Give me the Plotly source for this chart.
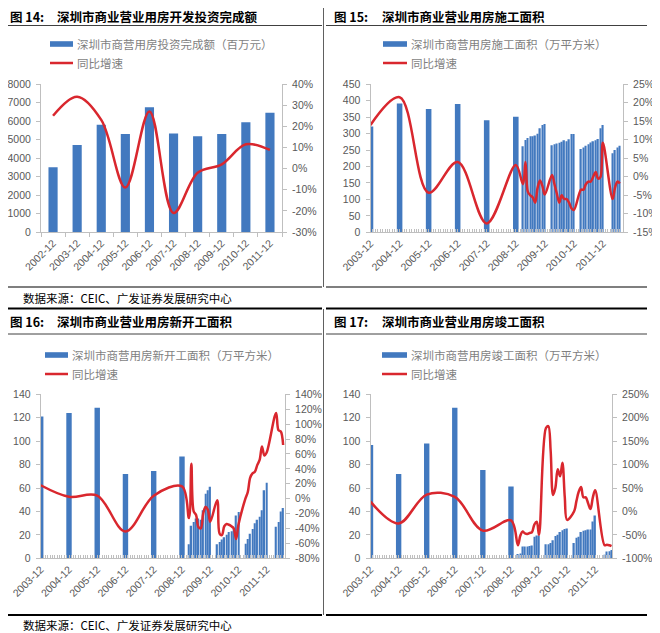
import plotly.graph_objects as go

# The page body adds an 8px offset; the figure is sized and shifted to compensate.
OFF = 8
W, H = 660 - OFF, 633 - OFF

def px(x):
    return (x - OFF) / W

def py(y):
    return 1 - (y - OFF) / H

# ---------------- Data ----------------
# Figure 14: annual investment (million yuan) and YoY growth
years_14 = ["2002-12", "2003-12", "2004-12", "2005-12", "2006-12",
            "2007-12", "2008-12", "2009-12", "2010-12", "2011-12"]
invest_14 = [3500, 4700, 5800, 5300, 6750, 5330, 5180, 5300, 5930, 6450]
growth_14 = [0.25, 0.34, 0.23, -0.09, 0.27, -0.21, -0.02, 0.02, 0.115, 0.088]

# Periods shared by figures 15-17 (annual to 2008, then monthly cumulative)
periods = ["2003-12", "2004-12", "2005-12", "2006-12", "2007-12", "2008-12",
           "2009-03", "2009-04", "2009-05", "2009-06", "2009-07", "2009-08",
           "2009-09", "2009-10", "2009-11", "2009-12",
           "2010-03", "2010-04", "2010-05", "2010-06", "2010-07", "2010-08",
           "2010-09", "2010-10", "2010-11", "2010-12",
           "2011-03", "2011-04", "2011-05", "2011-06", "2011-07", "2011-08",
           "2011-09", "2011-10", "2011-11", "2011-12",
           "2012-04", "2012-05", "2012-06", "2012-07"]
year_ticks = ["2003-12", "2004-12", "2005-12", "2006-12", "2007-12",
              "2008-12", "2009-12", "2010-12", "2011-12"]

# Figure 15: floor area under construction (10k sqm) and YoY growth
area_15 = [322, 392, 375, 390, 341, 351,
           262, 281, 287, 292, 292, 294, 300, 316, 326, 329,
           265, 268, 270, 272, 275, 280, 277, 283, 299, 299,
           253, 258, 263, 268, 273, 277, 280, 284, 316, 326,
           240, 250, 258, 263]
growth_15 = [0.14, 0.215, -0.043, 0.04, -0.126, 0.032,
             -0.02, 0.04, -0.04, -0.05, -0.055, -0.07, -0.03, -0.01, -0.025, -0.048,
             0.005, -0.02, -0.045, -0.07, -0.05, -0.06, -0.06, -0.07, -0.085, -0.09,
             -0.035, -0.035, -0.02, -0.013, -0.013, 0.0, 0.013, -0.005, 0.0, 0.092,
             -0.06, -0.03, -0.013, -0.018]

# Figure 16: new construction starts (10k sqm) and YoY growth
area_16 = [121, 124, 128.6, 72, 74.5, 86.8,
           12, 27.8, 31, 34, 34, 33, 41, 55, 58, 61,
           12, 14, 16, 18, 20, 22.5, 23, 25, 36.5, 39.5,
           12.5, 16.5, 21, 25, 30, 33, 35.5, 41, 58, 64.5,
           27, 31, 40, 43]
growth_16 = [0.18, 0.025, 0.04, -0.44, 0.04, 0.165,
             -0.26, 0.47, -0.17, -0.22, -0.38, -0.40, -0.20, -0.11, -0.15, -0.31,
             -0.02, -0.47, -0.49, -0.37, -0.34, -0.35, -0.37, -0.40, -0.54, -0.35,
             0.0, 0.09, 0.28, 0.34, 0.36, 0.45, 0.52, 0.70, 0.58, 0.62,
             1.15, 0.92, 0.90, 0.72]

# Figure 17: completed floor area (10k sqm) and YoY growth
area_17 = [96.7, 72, 98, 128.6, 75.4, 61.2,
           3.7, 4.2, 10, 10, 10, 10.5, 11, 18.5, 19.5, 19.5,
           12, 12, 13, 15.5, 19, 20, 22.5, 24, 25, 25.5,
           13, 17.5, 18.5, 22.5, 23.5, 24, 24.5, 24.5, 31.5, 36.5,
           3, 5.7, 6, 7]
growth_17 = [0.21, -0.255, 0.36, 0.31, -0.41, -0.19,
             -0.72, -0.52, -0.43, -0.47, -0.48, -0.46, -0.44, -0.28, -0.22, -0.50,
             1.78, 1.82, 1.30, 0.35, 0.50, 0.90, 0.75, 1.04, 0.30, -0.18,
             0.0, 0.22, 0.42, 0.52, 0.30, 0.30, 0.17, 0.05, 0.30, 0.45,
             -0.72, -0.71, -0.72, -0.74]

# ---------------- Styling ----------------
BLUE = "#4279BF"
RED = "#D9272E"
AXIS = "#BFBFBF"
TXT = "#595959"
FONT = "Liberation Sans, Arial, sans-serif"
CJK = "Noto Sans CJK SC"
MONTH_MS = 30.44 * 24 * 3600 * 1000

n_annual = sum(1 for p in periods if p <= "2008-12")
bar_widths = [2.3 * MONTH_MS if i < n_annual else 0.6 * MONTH_MS for i in range(len(periods))]

fig = go.Figure()

# Figure 14
fig.add_trace(go.Bar(x=years_14, y=invest_14, marker=dict(color=BLUE, line=dict(width=0)),
                     width=0.38, xaxis="x", yaxis="y", showlegend=False))
fig.add_trace(go.Scatter(x=years_14, y=growth_14, mode="lines",
                         line=dict(color=RED, width=2.5, shape="spline"),
                         xaxis="x", yaxis="y2", showlegend=False))

# Figures 15-17
for bars, growth, xa, ya, ya2 in [(area_15, growth_15, "x2", "y3", "y4"),
                                  (area_16, growth_16, "x3", "y5", "y6"),
                                  (area_17, growth_17, "x4", "y7", "y8")]:
    fig.add_trace(go.Bar(x=periods, y=bars, width=bar_widths,
                         marker=dict(color=BLUE, line=dict(width=0)),
                         xaxis=xa, yaxis=ya, showlegend=False))
    fig.add_trace(go.Scatter(x=periods, y=growth, mode="lines",
                             line=dict(color=RED, width=2.5, shape="spline"),
                             xaxis=xa, yaxis=ya2, showlegend=False))

tickfont = dict(family=FONT, size=10.5, color=TXT)

def yax(dom, rng, dtick, side="left", overlay=None, anchor=None, pct=False):
    d = dict(domain=dom, range=rng, showgrid=False, zeroline=False, showline=True,
             linecolor=AXIS, linewidth=1, ticks="outside", ticklen=4, tickcolor=AXIS,
             tickfont=tickfont, side=side, anchor=anchor, ticklabelstandoff=3,
             automargin=False)
    if pct:
        vals = []
        v = rng[0]
        while v <= rng[1] + 1e-9:
            vals.append(round(v, 4))
            v += dtick
        d.update(tickmode="array", tickvals=vals,
                 ticktext=[f"{int(round(t * 100))}%" for t in vals])
    else:
        d.update(dtick=dtick, tick0=0)
    if overlay:
        d["overlaying"] = overlay
    return d

def xdate(dom, end, anchor):
    return dict(domain=dom, type="date", range=["2003-12-01", end], anchor=anchor,
                showgrid=False, zeroline=False, showline=True, linecolor=AXIS, linewidth=1,
                tickmode="array", tickvals=year_ticks, ticktext=year_ticks,
                ticks="inside", ticklen=3, tickcolor=AXIS, tickangle=-45, tickfont=tickfont,
                automargin=False,
                minor=dict(dtick="M1", tick0="2003-12-01", ticks="inside", ticklen=3,
                           tickcolor=AXIS, tickwidth=1))

layout = dict(
    width=W, height=H, margin=dict(l=0, r=0, t=0, b=0, autoexpand=False),
    paper_bgcolor="white", plot_bgcolor="rgba(0,0,0,0)",
    barmode="overlay", showlegend=False,
    xaxis=dict(domain=[px(41), px(282)], type="category", anchor="y", automargin=False,
               showgrid=False, showline=True, linecolor=AXIS, ticks="outside", ticklen=4,
               tickcolor=AXIS, tickson="boundaries", tickangle=-45, tickfont=tickfont),
    yaxis=yax([py(232), py(84)], [0, 8000], 1000, anchor="x"),
    yaxis2=yax([py(232), py(84)], [-0.30, 0.40], 0.10, side="right", overlay="y", anchor="x", pct=True),
    xaxis2=xdate([px(370.5), px(623)], "2012-08-10", "y3"),
    yaxis3=yax([py(232.3), py(84.3)], [0, 450], 50, anchor="x2"),
    yaxis4=yax([py(232.3), py(84.3)], [-0.15, 0.25], 0.05, side="right", overlay="y3", anchor="x2", pct=True),
    xaxis3=xdate([px(40.7), px(285)], "2012-07-25", "y5"),
    yaxis5=yax([py(558.3), py(394.3)], [0, 140], 20, anchor="x3"),
    yaxis6=yax([py(558.3), py(394.3)], [-0.80, 1.40], 0.20, side="right", overlay="y5", anchor="x3", pct=True),
    xaxis4=xdate([px(370.5), px(612)], "2012-07-07", "y7"),
    yaxis7=yax([py(558.3), py(394.3)], [0, 140], 20, anchor="x4"),
    yaxis8=yax([py(558.3), py(394.3)], [-1.0, 2.5], 0.50, side="right", overlay="y7", anchor="x4", pct=True),
)
fig.update_layout(**layout)

shapes = []
def hline(x0, x1, y, w=1, c="#000000"):
    shapes.append(dict(type="line", xref="paper", yref="paper", x0=px(x0), x1=px(x1),
                       y0=py(y), y1=py(y), line=dict(color=c, width=w)))
def vline(x, y0, y1, w=1, c="#000000"):
    shapes.append(dict(type="line", xref="paper", yref="paper", x0=px(x), x1=px(x),
                       y0=py(y0), y1=py(y1), line=dict(color=c, width=w)))

# panel frame lines
for (a, b) in [(8, 322), (326, 647)]:
    hline(a, b, 25.5, 1, "#404040")
    hline(a, b, 287, 1.2)
    hline(a, b, 308.5, 2)
    hline(a, b, 334, 1, "#404040")
    hline(a, b, 615, 2)
vline(323.5, 8, 287, 1, "#606060")
vline(323.5, 309, 615, 1, "#606060")

annotations = []
def text(x, y, s, size=11.5, color="#000000", family=CJK, anchor="left"):
    annotations.append(dict(xref="paper", yref="paper", x=px(x), y=py(y), text=s,
                            showarrow=False, xanchor=anchor, yanchor="middle",
                            font=dict(family=family, size=size, color=color)))

# titles
titles = [(8, 16.5, "图 14:", 55, "深圳市商业营业用房开发投资完成额"),
          (332, 16.5, "图 15:", 380, "深圳市商业营业用房施工面积"),
          (8, 321, "图 16:", 55, "深圳市商业营业用房新开工面积"),
          (332, 321, "图 17:", 380, "深圳市商业营业用房竣工面积")]
for x0, y0, lab, x1, t in titles:
    text(x0, y0, "<b>" + lab + "</b>", size=12.5)
    text(x1, y0, "<b>" + t + "</b>", size=12.5)

# sources
text(21, 298, "数据来源：CEIC、广发证券发展研究中心", size=11.5)
text(21, 624.5, "数据来源：CEIC、广发证券发展研究中心", size=11.5)

# legends
legends = [(50, 73, 44, 63, "深圳市商营用房投资完成额（百万元）"),
           (383, 407, 44, 63, "深圳市商营用房施工面积（万平方米）"),
           (45, 68, 355, 374, "深圳市商营用房新开工面积（万平方米）"),
           (382, 407, 355, 374, "深圳市商营用房竣工面积（万平方米）")]
for x0, x1, yb, yr, lab in legends:
    shapes.append(dict(type="rect", xref="paper", yref="paper", x0=px(x0), x1=px(x1),
                       y0=py(yb + 2.8), y1=py(yb - 2.8), fillcolor=BLUE, line=dict(width=0)))
    hline(x0, x1, yr, 2.5, RED)
    text(x1 + 2, yb, lab, size=11.5, color="#7F7F7F")
    text(x1 + 2, yr, "同比增速", size=11.5, color="#7F7F7F")

fig.update_layout(shapes=shapes, annotations=annotations)
fig.write_html("out.html")
